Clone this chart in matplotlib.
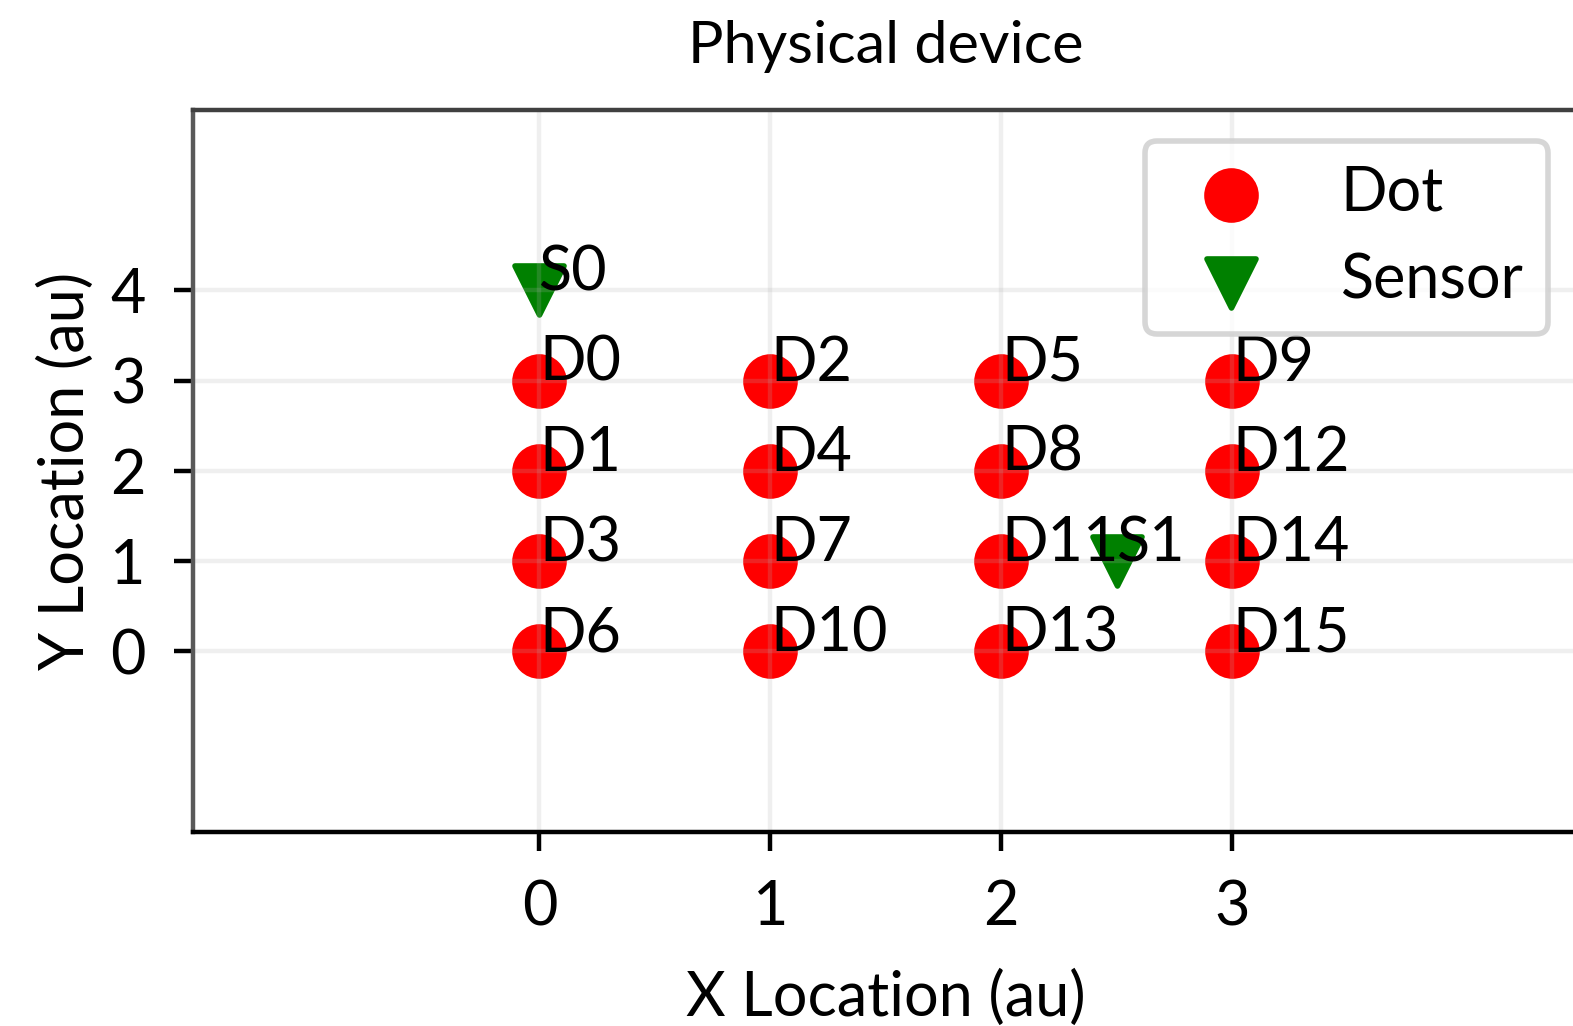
import matplotlib.pyplot as plt

plt.rcParams['font.family'] = ['Lato', 'DejaVu Sans']
plt.rcParams['font.size'] = 11

# Dot positions and names
dot_names = ['D0', 'D1', 'D3', 'D6', 'D2', 'D4', 'D7', 'D10',
             'D5', 'D8', 'D11', 'D13', 'D9', 'D12', 'D14', 'D15']
dot_x = [0, 0, 0, 0, 1, 1, 1, 1, 2, 2, 2, 2, 3, 3, 3, 3]
dot_y = [3, 2, 1, 0, 3, 2, 1, 0, 3, 2, 1, 0, 3, 2, 1, 0]

# Sensor positions and names
sensor_names = ['S0', 'S1']
sensor_x = [0, 2.5]
sensor_y = [4, 1]

fig = plt.figure(figsize=(1573 / 400, 1026 / 400), dpi=400)
ax = fig.add_axes([0.1227, 0.1891, 0.8808, 0.7037])

ax.scatter(dot_x, dot_y, s=78, c='red', marker='o', label='Dot')
ax.scatter(sensor_x, sensor_y, s=78, c='green', marker='v', label='Sensor')

for name, x, y in zip(dot_names, dot_x, dot_y):
    ax.text(x, y, name)
for name, x, y in zip(sensor_names, sensor_x, sensor_y):
    ax.text(x, y, name)

ax.set_xlim(-1.5, 4.5)
ax.set_ylim(-2, 6)
ax.set_xticks([0, 1, 2, 3])
ax.set_yticks([0, 1, 2, 3, 4])
ax.grid(alpha=0.2)
ax.spines['left'].set_color('0.35')
ax.spines['top'].set_color('0.25')
ax.tick_params(pad=5)
ax.set_title('Physical device', fontsize=10.7, pad=8.5)
ax.set_xlabel('X Location (au)', labelpad=6)
ax.set_ylabel('Y Location (au)', labelpad=2.7)
ax.legend(loc='upper right')

fig.savefig('out.png', dpi=400)
